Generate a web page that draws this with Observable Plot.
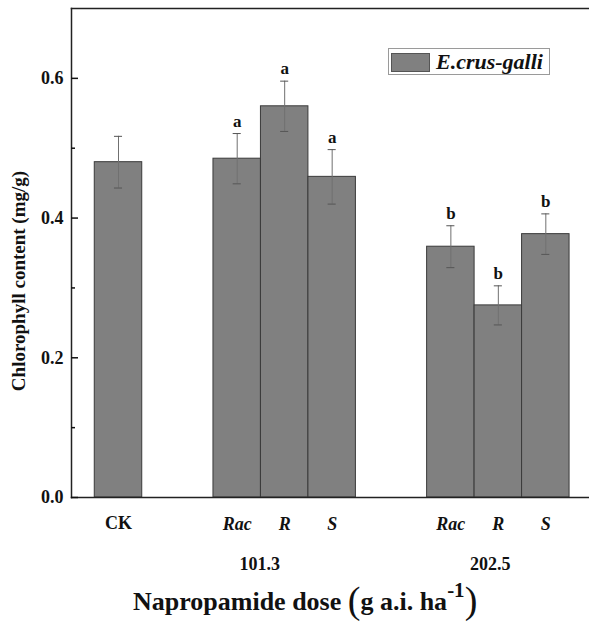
<!DOCTYPE html>
<html>
<head>
<meta charset="utf-8">
<script src="https://cdn.jsdelivr.net/npm/d3@7"></script>
<script src="https://cdn.jsdelivr.net/npm/@observablehq/plot@0.6"></script>
<style>
  html, body { margin: 0; padding: 0; background: #fff; }
  #wrap { position: relative; width: 589px; height: 625px; font-family: "Liberation Serif", "Times New Roman", serif; color: #111; }
  #legend { position: absolute; left: 388px; top: 48px; width: 162px; height: 27px; box-sizing: border-box; border: 1px solid #9a9a9a; background: #fff; }
  #legend .sw { position: absolute; left: 2px; top: 4px; width: 39px; height: 19px; box-sizing: border-box; background: #808080; border: 1px solid #555; }
  #legend .lt { position: absolute; left: 47px; top: 0px; font-size: 22px; font-weight: bold; font-style: italic; line-height: 26px; white-space: nowrap; }
  #ytitle { position: absolute; left: 19px; top: 281px; transform: translate(-50%, -50%) rotate(-90deg); font-size: 19px; font-weight: bold; white-space: nowrap; line-height: 20px; }
  #xtitle { position: absolute; left: 133px; top: 585px; font-size: 26px; font-weight: bold; white-space: nowrap; line-height: 30px; }
  #xtitle .p { font-size: 38px; font-weight: normal; vertical-align: -3px; }
  #xtitle sup { font-size: 21px; vertical-align: 13px; line-height: 0; }
</style>
</head>
<body>
<div id="wrap">
  <div id="chart"></div>
  <div id="legend"><span class="sw"></span><span class="lt">E.crus-galli</span></div>
  <div id="ytitle">Chlorophyll content (mg/g)</div>
  <div id="xtitle">Napropamide dose <span class="p">(</span>g a.i. ha<sup>-1</sup><span class="p">)</span></div>
</div>
<script>
// ---- data ----
const treatments = ["CK", "Rac", "R", "S", "Rac", "R", "S"];
const doses = ["", "101.3", "101.3", "101.3", "202.5", "202.5", "202.5"];
const chlorophyll = [0.480, 0.485, 0.560, 0.459, 0.359, 0.275, 0.377];
const errors = [0.037, 0.036, 0.036, 0.039, 0.030, 0.028, 0.029];
const letters = ["", "a", "a", "a", "b", "b", "b"];
const yMajorTicks = [0, 0.2, 0.4, 0.6];
const yMinorTicks = [0.1, 0.3, 0.5];

// slot positions: consecutive bars touch, a new dose group starts after a gap
const slots = [];
treatments.forEach((t, i) => {
  if (i === 0) slots.push(0);
  else slots.push(slots[i - 1] + (doses[i] !== doses[i - 1] ? 2.5 : 1));
});
const data = treatments.map((t, i) => ({
  t, dose: doses[i], v: chlorophyll[i], e: errors[i], l: letters[i], x: slots[i]
}));
const groups = Array.from(d3.group(data.filter(d => d.dose), d => d.dose), ([dose, rows]) => ({
  dose, x: d3.mean(rows, r => r.x)
}));
// horizontal nudge of the dose labels (style only)
const groupLabelDx = { "101.3": -25, "202.5": -8 };

const font = "Liberation Serif";
const chart = Plot.plot({
  width: 589,
  height: 625,
  marginLeft: 71,
  marginRight: 0,
  marginTop: 8,
  marginBottom: 128,
  style: { fontFamily: font, background: "#fff", color: "#111" },
  x: { domain: [-0.99, 9.92], axis: null },
  y: { domain: [0, 0.7], axis: null },
  marks: [
    Plot.rectY(data, { x1: d => d.x - 0.5, x2: d => d.x + 0.5, y1: 0, y2: "v", fill: "#808080", stroke: "#3a3a3a", strokeWidth: 1 }),
    Plot.ruleX(data, { x: "x", y1: d => d.v - d.e, y2: d => d.v + d.e, stroke: "#707070", strokeWidth: 1 }),
    Plot.ruleY(data, { y: d => d.v + d.e, x1: d => d.x - 0.085, x2: d => d.x + 0.085, stroke: "#555", strokeWidth: 1 }),
    Plot.ruleY(data, { y: d => d.v - d.e, x1: d => d.x - 0.085, x2: d => d.x + 0.085, stroke: "#555", strokeWidth: 1 }),
    Plot.text(data.filter(d => d.l), { x: "x", y: d => d.v + d.e, text: "l", dy: -7, lineAnchor: "bottom", fontSize: 17, fontWeight: "bold", fill: "#111" }),
    Plot.frame({ anchor: "left", stroke: "#222", strokeWidth: 1.5 }),
    Plot.frame({ anchor: "top", stroke: "#222", strokeWidth: 1.5 }),
    Plot.frame({ anchor: "bottom", stroke: "#222", strokeWidth: 1.5 }),
    Plot.axisY({ ticks: yMajorTicks, tickSize: -7, tickFormat: () => "", label: null, strokeWidth: 1.5 }),
    Plot.axisY({ ticks: yMinorTicks, tickSize: -4, tickFormat: () => "", label: null, strokeWidth: 1.5 }),
    Plot.axisY({ ticks: yMajorTicks, tickSize: 0, tickPadding: 8, tickFormat: d3.format(".1f"), label: null, fontSize: 18, fontWeight: "bold", fill: "#111" }),
    Plot.text(data.filter(d => !d.dose), { x: "x", text: "t", frameAnchor: "bottom", dy: 31, fontSize: 18, fontWeight: "bold", fill: "#111" }),
    Plot.text(data.filter(d => d.dose), { x: "x", text: "t", frameAnchor: "bottom", dy: 32, fontSize: 18, fontWeight: "bold", fontStyle: "italic", fill: "#111" }),
    ...groups.map(g => Plot.text([g], { x: "x", text: "dose", frameAnchor: "bottom", dy: 72, dx: groupLabelDx[g.dose] || 0, fontSize: 18, fontWeight: "bold", fill: "#111" }))
  ]
});
document.getElementById("chart").appendChild(chart);
</script>
</body>
</html>
